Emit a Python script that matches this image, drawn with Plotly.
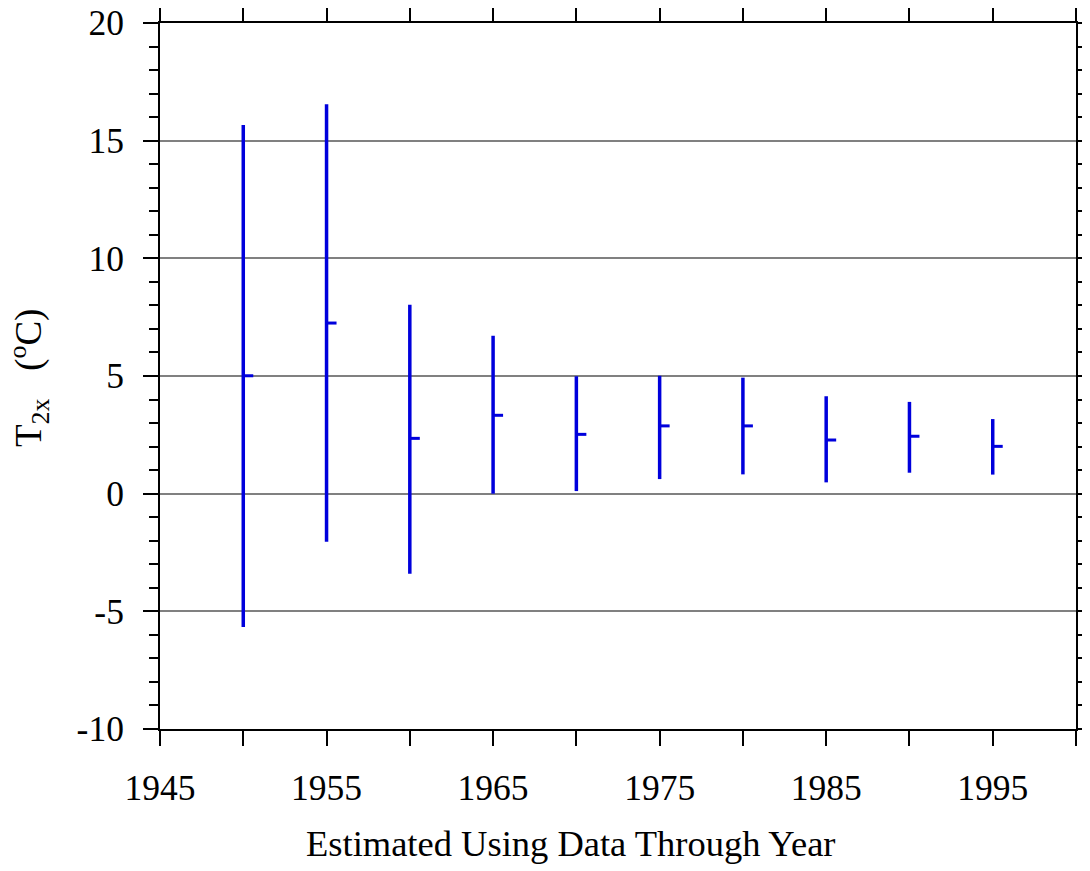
import plotly.graph_objects as go

years = [1950, 1955, 1960, 1965, 1970, 1975, 1980, 1985, 1990, 1995]
central = [5.01, 7.25, 2.35, 3.33, 2.52, 2.88, 2.88, 2.28, 2.44, 2.01]
upper = [15.67, 16.55, 8.03, 6.71, 4.99, 5.01, 4.93, 4.14, 3.90, 3.17]
lower = [-5.67, -2.04, -3.40, 0.0, 0.11, 0.62, 0.82, 0.48, 0.89, 0.81]

x_tickvals = [1945, 1955, 1965, 1975, 1985, 1995]
x_ticktext = ["1945", "1955", "1965", "1975", "1985", "1995"]
y_tickvals = [-10, -5, 0, 5, 10, 15, 20]
y_ticktext = ["-10", "-5", "0", "5", "10", "15", "20"]

x_title = "Estimated Using Data Through Year"
y_title = "T<sub>2x</sub>   (<sup>o</sup>C)"

blue = "rgb(0,0,220)"
font = "Liberation Serif, Times New Roman, serif"
fs = 35.5

fig = go.Figure()
fig.add_trace(go.Scatter(
    x=years, y=central, mode="markers",
    marker=dict(size=1, color="rgba(0,0,0,0)"),
    error_y=dict(type="data", symmetric=False,
                 array=[u - c for u, c in zip(upper, central)],
                 arrayminus=[c - l for c, l in zip(central, lower)],
                 color=blue, thickness=3.5, width=0),
    error_x=dict(type="data", symmetric=False,
                 array=[0.6] * len(years), arrayminus=[0] * len(years),
                 color=blue, thickness=3, width=0),
    showlegend=False, hoverinfo="skip",
))

fig.update_layout(
    width=1090, height=871,
    margin=dict(l=152, r=22, t=15, b=150),
    paper_bgcolor="white", plot_bgcolor="white",
    font=dict(family=font, size=fs, color="black"),
    xaxis=dict(
        range=[1945, 2000], tickvals=x_tickvals, ticktext=x_ticktext,
        ticks="outside", ticklen=15, tickwidth=2, tickcolor="black",
        ticklabelstandoff=11, ticklabeloverflow="allow",
        minor=dict(dtick=5, tick0=1945, ticks="outside", ticklen=15, tickwidth=2,
                   tickcolor="black", showgrid=False),
        showline=True, linewidth=2, linecolor="black", mirror="ticks",
        showgrid=False, zeroline=False, automargin=False,
        tickfont=dict(family=font, size=fs),
    ),
    yaxis=dict(
        range=[-10, 20], tickvals=y_tickvals, ticktext=y_ticktext,
        ticks="outside", ticklen=15, tickwidth=2, tickcolor="black",
        ticklabelstandoff=12, ticklabeloverflow="allow",
        minor=dict(dtick=1, ticks="outside", ticklen=9, tickwidth=2,
                   tickcolor="black", showgrid=False),
        showline=True, linewidth=2, linecolor="black", mirror="ticks",
        showgrid=True, gridcolor="rgb(128,128,128)", gridwidth=1.8,
        zeroline=False, automargin=False,
        tickfont=dict(family=font, size=fs),
    ),
    annotations=[
        dict(text=x_title, xref="paper", yref="paper", x=0.449, y=0,
             xanchor="center", yanchor="middle", yshift=-114, showarrow=False,
             font=dict(family=font, size=36.5)),
        dict(text=y_title, xref="paper", yref="paper", x=0, y=0.497,
             xanchor="center", yanchor="middle", xshift=-131, textangle=-90,
             showarrow=False, font=dict(family=font, size=37)),
    ],
)

fig.write_html("out.html")
